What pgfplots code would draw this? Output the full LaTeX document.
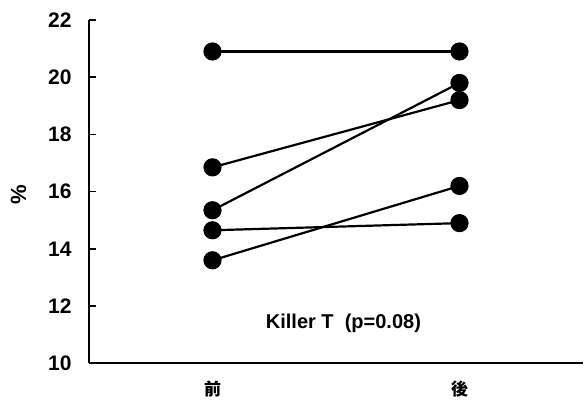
\documentclass[border=0pt]{standalone}
\usepackage{fontspec}
\setmainfont{Liberation Sans}
\newfontfamily\cjk{Noto Sans CJK JP}
\usepackage{pgfplots}
\pgfplotsset{compat=1.18}
\begin{document}
\begin{tikzpicture}
\path[use as bounding box] (-89pt,-44.7pt) rectangle (496pt,363.3pt);
\begin{axis}[
  at={(0,0)}, anchor=south west,
  scale only axis, width=494pt, height=343.3pt,
  xmin=-0.5, xmax=1.5, ymin=10, ymax=22,
  axis x line=bottom, axis y line=left,
  axis line style={-, line width=2pt, black},
  ytick={10,12,14,16,18,20,22},
  yticklabels={\textbf{10},\textbf{12},\textbf{14},\textbf{16},\textbf{18},\textbf{20},\textbf{22}},
  xtick={0,1}, xticklabels={{\cjk\bfseries 前},{\cjk\bfseries 後}},
  xtick style={draw=none},
  ytick pos=left,
  tick align=inside,
  ytick style={line width=1.6pt, black},
  major tick length=7pt,
  yticklabel style={font=\fontsize{21}{24}\selectfont, xshift=-14pt},
  xticklabel style={font=\fontsize{17}{20}\selectfont, yshift=-14pt},
  clip=false,
]
\addplot[black, line width=2.2pt, mark=*, mark size=8pt, mark options={fill=black}] coordinates {(0,20.9) (1,20.9)};
\addplot[black, line width=2.2pt, mark=*, mark size=8pt, mark options={fill=black}] coordinates {(0,16.85) (1,19.2)};
\addplot[black, line width=2.2pt, mark=*, mark size=8pt, mark options={fill=black}] coordinates {(0,15.35) (1,19.8)};
\addplot[black, line width=2.2pt, mark=*, mark size=8pt, mark options={fill=black}] coordinates {(0,14.65) (1,14.9)};
\addplot[black, line width=2.2pt, mark=*, mark size=8pt, mark options={fill=black}] coordinates {(0,13.6) (1,16.2)};
\node[font=\fontsize{20}{24}\selectfont\bfseries] at (axis cs:0.53,11.4) {Killer T\ \ (p=0.08)};
\node[rotate=90, font=\fontsize{22}{26}\selectfont\bfseries] at (axis cs:-0.785,15.9) {\%};
\end{axis}
\end{tikzpicture}
\end{document}
